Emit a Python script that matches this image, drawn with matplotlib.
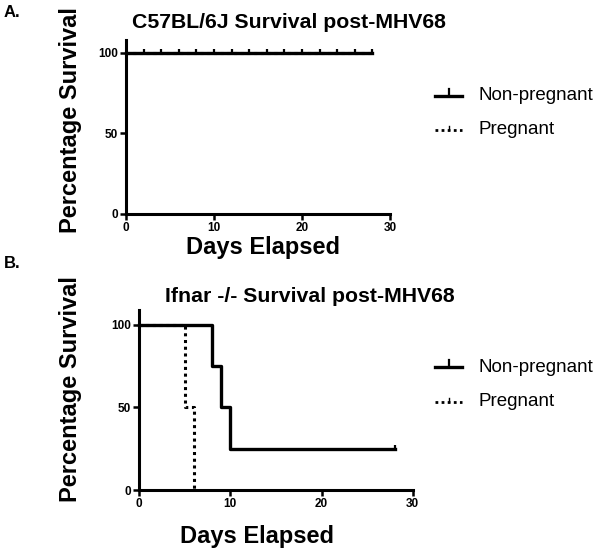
import matplotlib
matplotlib.use("Agg")
import matplotlib.pyplot as plt
from matplotlib.path import Path
from matplotlib.lines import Line2D

plt.rcParams['font.family'] = ['Liberation Sans', 'DejaVu Sans']

# Panel A data (C57BL/6J)
A_np_days = [0, 28]
A_np_surv = [100, 100]
A_np_censor_days = [2, 4, 6, 8, 10, 12, 14, 16, 18, 20, 22, 24, 26, 28]
A_np_censor_surv = [100] * 14
A_p_days = [0, 28]
A_p_surv = [100, 100]

# Panel B data (Ifnar -/-)
B_np_days = [0, 8, 9, 10, 28]
B_np_surv = [100, 75, 50, 25, 25]
B_np_censor_days = [28]
B_np_censor_surv = [25]
B_p_days = [0, 5, 6]
B_p_surv = [100, 50, 0]

x_ticks = [0, 10, 20, 30]
y_ticks = [0, 50, 100]
titles = ["C57BL/6J Survival post-MHV68", "Ifnar -/- Survival post-MHV68"]
series_names = ["Non-pregnant", "Pregnant"]

censor_marker = Path([(0, 0), (0, 1)], [Path.MOVETO, Path.LINETO])
DOT = (0, (1, 1.2))

fig = plt.figure(figsize=(6, 5.48), dpi=100)
axA = fig.add_axes([0.21, 0.6095, 0.44, 0.3175])
axB = fig.add_axes([0.2317, 0.1058, 0.4563, 0.3284])

def style(ax, ymax):
    ax.set_xlim(0, 30)
    ax.set_ylim(0, ymax)
    for s in ['top', 'right']:
        ax.spines[s].set_visible(False)
    for s in ['left', 'bottom']:
        ax.spines[s].set_linewidth(2.2)
    ax.set_xticks(x_ticks)
    ax.set_yticks(y_ticks)
    ax.tick_params(width=1.8, length=4, labelsize=8.5, pad=2)
    for lab in ax.get_xticklabels() + ax.get_yticklabels():
        lab.set_fontweight('bold')
    ax.set_ylabel("Percentage Survival", fontsize=17, fontweight='bold')
    ax.set_xlabel("Days Elapsed", fontsize=17, fontweight='bold')

def plot_panel(ax, p_days, p_surv, np_days, np_surv, cd, cs):
    ax.step(p_days, p_surv, where='post', color='black', lw=2.2, ls=DOT, clip_on=False)
    ax.step(np_days, np_surv, where='post', color='black', lw=2.4, clip_on=False)
    ax.plot(cd, cs, ls='none', marker=censor_marker, markersize=6, mew=1.6, color='black', clip_on=False)

plot_panel(axA, A_p_days, A_p_surv, A_np_days, A_np_surv, A_np_censor_days, A_np_censor_surv)
plot_panel(axB, B_p_days, B_p_surv, B_np_days, B_np_surv, B_np_censor_days, B_np_censor_surv)

style(axA, 108)
style(axB, 109)

fig.text(132 / 600, 1 - 28 / 548, titles[0], fontsize=15.3, fontweight='bold', va='baseline', ha='left')
fig.text(165 / 600, 1 - 302 / 548, titles[1], fontsize=15.3, fontweight='bold', va='baseline', ha='left')

axA.yaxis.set_label_coords(-0.167, 0.54)
axB.yaxis.set_label_coords(-0.208, 0.56)
axA.xaxis.set_label_coords(0.52, -0.126)
axB.xaxis.set_label_coords(0.43, -0.194)

fig.text(0.006, 0.977, "A.", fontsize=12, fontweight='bold', va='center')
fig.text(0.006, 0.52, "B.", fontsize=12, fontweight='bold', va='center')

# Manual legends (figure coordinates)
x0, x1, xt = 435 / 600, 462 / 600, 478 / 600
xm = (x0 + x1) / 2
for y_np, y_p in [(96, 130), (367, 402)]:
    fy_np = 1 - y_np / 548
    fy_p = 1 - y_p / 548
    fig.add_artist(Line2D([x0, x1], [fy_np, fy_np], color='black', lw=2.4))
    fig.add_artist(Line2D([xm, xm], [fy_np, fy_np + 7 / 548], color='black', lw=1.6))
    fig.add_artist(Line2D([x0, x1], [fy_p, fy_p], color='black', lw=2.0, ls=DOT))
    fig.add_artist(Line2D([xm, xm], [fy_p, fy_p + 4 / 548], color='black', lw=1.0))
    fig.text(xt, fy_np, series_names[0], fontsize=13.5, va='center', ha='left')
    fig.text(xt, fy_p, series_names[1], fontsize=13.5, va='center', ha='left')

fig.savefig("out.png", dpi=100)
